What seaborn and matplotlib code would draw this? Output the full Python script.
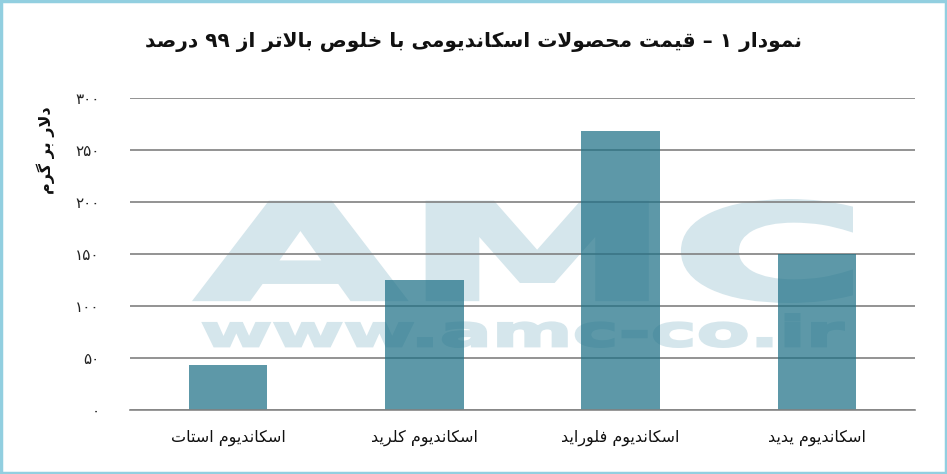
import re
import matplotlib
matplotlib.use("Agg")
import matplotlib.pyplot as plt
import seaborn as sns
from matplotlib.textpath import TextPath
from matplotlib.patches import PathPatch, Rectangle
from matplotlib.font_manager import FontProperties
from matplotlib.transforms import Affine2D, IdentityTransform

# data (USD per gram)
categories = ["اسکاندیوم استات", "اسکاندیوم کلرید", "اسکاندیوم فلوراید", "اسکاندیوم یدید"]
prices = [43, 125, 268, 150]
y_ticks = [0, 50, 100, 150, 200, 250, 300]
title = "نمودار ۱ – قیمت محصولات اسکاندیومی با خلوص بالاتر از ۹۹ درصد"
y_label = "دلار بر گرم"

W, H = 947, 474

# minimal Persian shaping: (isolated, final, initial, medial)
FORMS = {
    'ا': ('\uFE8D', '\uFE8E', None, None),
    'ب': ('\uFE8F', '\uFE90', '\uFE91', '\uFE92'),
    'ت': ('\uFE95', '\uFE96', '\uFE97', '\uFE98'),
    'ح': ('\uFEA1', '\uFEA2', '\uFEA3', '\uFEA4'),
    'خ': ('\uFEA5', '\uFEA6', '\uFEA7', '\uFEA8'),
    'د': ('\uFEA9', '\uFEAA', None, None),
    'ر': ('\uFEAD', '\uFEAE', None, None),
    'ز': ('\uFEAF', '\uFEB0', None, None),
    'س': ('\uFEB1', '\uFEB2', '\uFEB3', '\uFEB4'),
    'ص': ('\uFEB9', '\uFEBA', '\uFEBB', '\uFEBC'),
    'ف': ('\uFED1', '\uFED2', '\uFED3', '\uFED4'),
    'ق': ('\uFED5', '\uFED6', '\uFED7', '\uFED8'),
    'ل': ('\uFEDD', '\uFEDE', '\uFEDF', '\uFEE0'),
    'م': ('\uFEE1', '\uFEE2', '\uFEE3', '\uFEE4'),
    'ن': ('\uFEE5', '\uFEE6', '\uFEE7', '\uFEE8'),
    'و': ('\uFEED', '\uFEEE', None, None),
    'ی': ('\uFBFC', '\uFBFD', '\uFBFE', '\uFBFF'),
    'ک': ('\uFB8E', '\uFB8F', '\uFB90', '\uFB91'),
    'گ': ('\uFB92', '\uFB93', '\uFB94', '\uFB95'),
}


def dual(c):
    return c in FORMS and FORMS[c][2] is not None


def fa(text):
    out = []
    i = 0
    while i < len(text):
        c = text[i]
        if c not in FORMS:
            out.append(c)
            i += 1
            continue
        joins_prev = i > 0 and dual(text[i - 1])
        if c == 'ل' and i + 1 < len(text) and text[i + 1] == 'ا':
            out.append('\uFEFC' if joins_prev else '\uFEFB')
            i += 2
            continue
        nxt = text[i + 1] if i + 1 < len(text) else ''
        joins_next = dual(c) and nxt in FORMS
        iso, fin, ini, med = FORMS[c]
        if joins_prev and joins_next:
            out.append(med)
        elif joins_prev:
            out.append(fin)
        elif joins_next:
            out.append(ini)
        else:
            out.append(iso)
        i += 1
    s = ''.join(out)[::-1]
    return re.sub(r'[0-9\u06F0-\u06F9]+', lambda m: m.group(0)[::-1], s)


def fa_num(n):
    return str(n).translate(str.maketrans('0123456789', '۰۱۲۳۴۵۶۷۸۹'))


def stretched_text(ax, text, x0, x1, y0, y1, color, stroke):
    # watermark text squeezed into a pixel box (image coords, y down)
    tp = TextPath((0, 0), text, size=100,
                  prop=FontProperties(family='DejaVu Sans', weight='bold'))
    ext = tp.get_extents()
    s = stroke / 2
    tr = (Affine2D().translate(-ext.x0, -ext.y0)
          .scale((x1 - x0 - stroke) / ext.width, (y1 - y0 - stroke) / ext.height)
          .translate(x0 + s, H - y1 + s))
    patch = PathPatch(tr.transform_path(tp), transform=IdentityTransform(),
                      facecolor=color, edgecolor=color, linewidth=stroke * 0.72,
                      joinstyle='miter', zorder=0.3, clip_on=False)
    ax.add_artist(patch)


sns.set_style('white')
plt.rcParams['font.family'] = ['DejaVu Sans']

fig = plt.figure(figsize=(W / 100, H / 100), dpi=100)
ax = fig.add_axes([130 / W, 1 - 410 / H, 785 / W, 312 / H])

labels = [fa(c) for c in categories]
sns.barplot(x=labels, y=prices, color='#1f7187', saturation=1, alpha=0.72,
            width=0.4, linewidth=0, ax=ax, zorder=2)

ax.set_xlim(-0.5, 3.5)
ax.set_ylim(0, 300)
ax.set_yticks(y_ticks)
ax.set_yticklabels([fa_num(t) for t in y_ticks], fontsize=11, color='#222222')
ax.tick_params(axis='y', length=0, pad=22)
ax.tick_params(axis='x', which='major', length=0, pad=14, labelsize=11.5,
               labelcolor='#111111')
ax.set_xticks([-0.5, 0.5, 1.5, 2.5, 3.5], minor=True)
ax.tick_params(axis='x', which='minor', length=8, width=1.2, color='#868686')
ax.set_xlabel('')
ax.set_ylabel('')

ax.set_axisbelow(True)
ax.yaxis.grid(True, color='#808080', linewidth=1.2, zorder=0.5)
ax.xaxis.grid(False)
for side in ['left', 'right', 'top']:
    ax.spines[side].set_visible(False)
ax.spines['bottom'].set_color('#868686')
ax.spines['bottom'].set_linewidth(1.2)

stretched_text(ax, 'AMC', 195, 853, 199, 303, '#d5e6ec', 6)
stretched_text(ax, 'www.amc-co.ir', 202, 845, 313, 348, '#d5e6ec', 2.5)

fig.text(473 / W, 1 - 42 / H, fa(title), ha='center', va='center',
         fontsize=14.5, fontweight='bold', color='#111111')
fig.text(46 / W, 1 - 150 / H, fa(y_label), ha='center', va='center',
         rotation=90, fontsize=11.5, fontweight='bold', color='#111111')

fig.add_artist(Rectangle((0.0015, 0.003), 0.997, 0.994, transform=fig.transFigure,
                         fill=False, edgecolor='#92cfe0', linewidth=2.5))

fig.savefig('out.png', dpi=100)
